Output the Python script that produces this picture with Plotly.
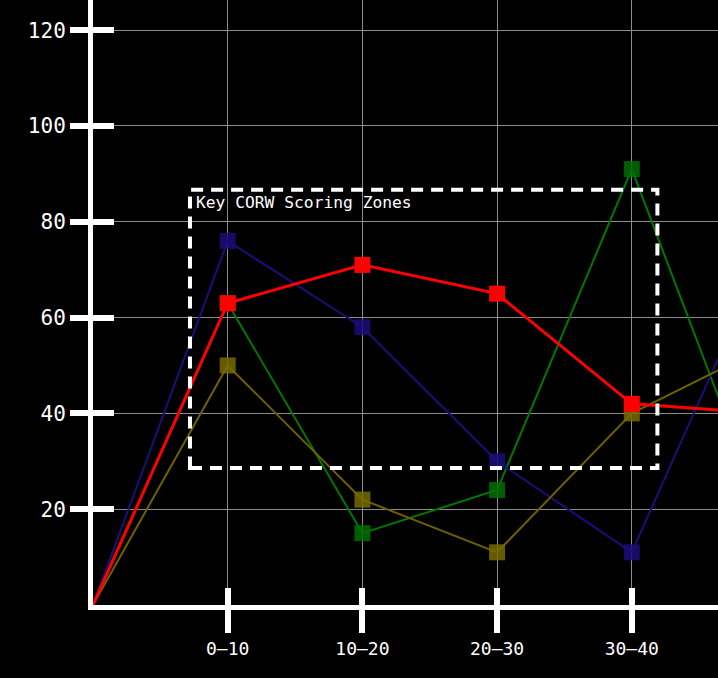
import plotly.graph_objects as go

# ---- data ----
x_labels = ["0–10", "10–20", "20–30", "30–40", "40–50"]
origin_value = 0
red_vals = [63, 71, 65, 42, 40]
blue_vals = [76, 58, 30, 11, 74]
green_vals = [63, 15, 24, 91, 17]
olive_vals = [50, 22, 11, 40, 54]
y_ticks = [20, 40, 60, 80, 100, 120]
zone_label = "Key CORW Scoring Zones"

x_pos = list(range(len(x_labels) + 1))  # 0 = origin
FONT = "DejaVu Sans Mono"

fig = go.Figure()

def add_series(vals, line_color, marker_color, lw, marker_opacity):
    fig.add_trace(go.Scatter(
        x=x_pos, y=[origin_value] + vals, mode="lines+markers",
        line=dict(color=line_color, width=lw),
        marker=dict(symbol="square", size=[0] + [16] * len(vals),
                    color=marker_color, opacity=marker_opacity, line=dict(width=0)),
        showlegend=False, hoverinfo="skip",
    ))

add_series(green_vals, "rgb(0,120,0)", "rgb(0,110,0)", 2, 0.85)
add_series(blue_vals, "rgb(26,16,120)", "rgb(26,14,120)", 2, 0.85)
add_series(olive_vals, "rgb(110,96,0)", "rgb(120,106,0)", 2, 0.85)
add_series(red_vals, "rgb(255,0,0)", "rgb(255,0,0)", 3, 1.0)

# invisible anchor trace so the overlay axes (inner halves of the ticks) are drawn
fig.add_trace(go.Scatter(x=[1], y=[20], xaxis="x2", yaxis="y2", mode="markers",
                         marker=dict(size=1, opacity=0), showlegend=False, hoverinfo="skip"))

x_range = [0, 4.64]
y_range = [0, 126.3]

fig.add_shape(type="rect", xref="x", yref="y", x0=0.72, x1=4.19, y0=28.6, y1=86.7,
              line=dict(color="white", width=4, dash="12px,8px"), fillcolor="rgba(0,0,0,0)",
              layer="above")
fig.add_annotation(x=0.75, y=84.0, xref="x", yref="y", text=zone_label, showarrow=False,
                   xanchor="left", yanchor="middle",
                   font=dict(family=FONT, size=16.3, color="white"))

fig.update_layout(
    width=718, height=678,
    paper_bgcolor="black", plot_bgcolor="black",
    margin=dict(l=93, r=0, t=0, b=73),
    font=dict(family=FONT, color="white"),
    xaxis=dict(range=x_range, tickmode="array", tickvals=x_pos[1:], ticktext=x_labels,
               showgrid=True, gridcolor="#8c8c8c", gridwidth=1, zeroline=False,
               showline=True, linecolor="white", linewidth=5,
               ticks="outside", ticklen=23, tickwidth=6, tickcolor="white",
               tickfont=dict(family=FONT, size=18, color="white"), ticklabelstandoff=0),
    yaxis=dict(range=y_range, tickmode="array", tickvals=y_ticks,
               showgrid=True, gridcolor="#8c8c8c", gridwidth=1, zeroline=False,
               showline=True, linecolor="white", linewidth=5,
               ticks="outside", ticklen=18, tickwidth=6, tickcolor="white",
               tickfont=dict(family=FONT, size=21, color="white"), ticklabelstandoff=0),
    xaxis2=dict(overlaying="x", anchor="y", side="bottom", range=x_range,
                tickmode="array", tickvals=x_pos[1:], showticklabels=False,
                showgrid=False, zeroline=False, showline=False,
                ticks="inside", ticklen=17, tickwidth=6, tickcolor="white"),
    yaxis2=dict(overlaying="y", anchor="x", side="left", range=y_range,
                tickmode="array", tickvals=y_ticks, showticklabels=False,
                showgrid=False, zeroline=False, showline=False,
                ticks="inside", ticklen=21, tickwidth=6, tickcolor="white"),
)

fig.write_html("out.html", config={"displayModeBar": False},
               post_script="document.body.style.margin='0';")
